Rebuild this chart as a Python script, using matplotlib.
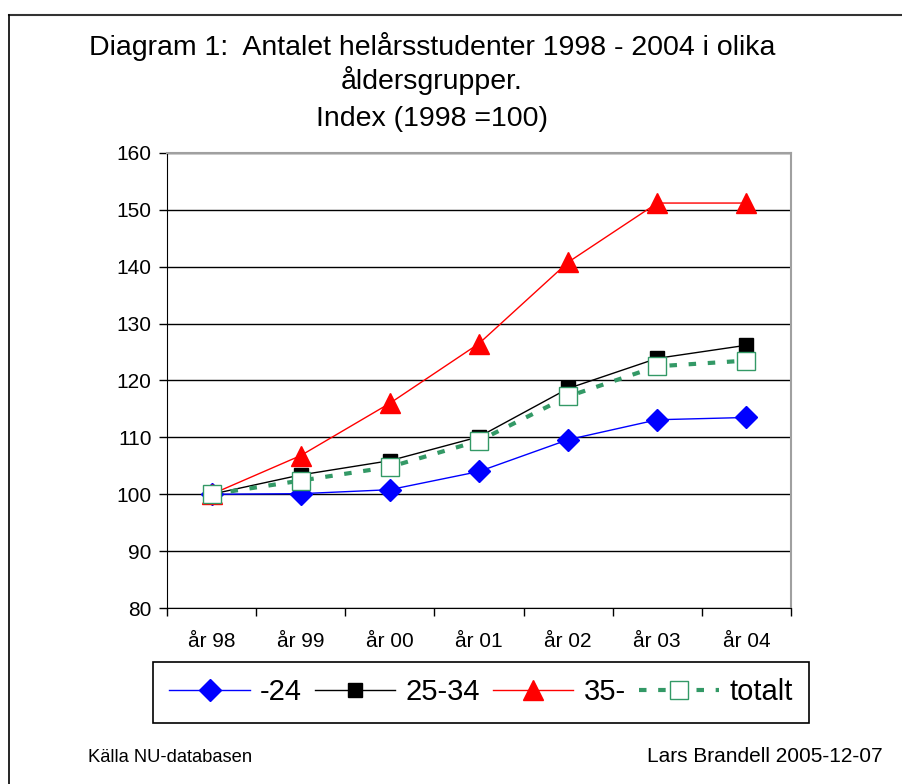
import matplotlib.pyplot as plt
from matplotlib.lines import Line2D

plt.rcParams['font.family'] = ['Liberation Sans', 'DejaVu Sans']

years = ['år 98', 'år 99', 'år 00', 'år 01', 'år 02', 'år 03', 'år 04']
under_24 = [100, 100.1, 100.8, 104.0, 109.6, 113.1, 113.5]
age_25_34 = [100, 103.4, 105.9, 110.1, 118.6, 123.9, 126.2]
over_35 = [100, 106.8, 116.0, 126.5, 140.8, 151.2, 151.2]
totalt = [100, 102.4, 104.8, 109.4, 117.2, 122.5, 123.5]

green = '#339966'

fig = plt.figure(figsize=(9.03, 7.84), dpi=100)
ax = fig.add_axes([167 / 903, 1 - 608 / 784, 624 / 903, 455 / 784])

x = range(len(years))
ax.plot(x, under_24, color='#0000ff', lw=1, marker='D', ms=11.5, mfc='#0000ff', mec='#0000ff', label='-24', zorder=3)
ax.plot(x, age_25_34, color='black', lw=1, marker='s', ms=10, mfc='black', mec='black', label='25-34', zorder=4)
ax.plot(x, over_35, color='#ff0000', lw=1, marker='^', ms=15, mfc='#ff0000', mec='#ff0000', label='35-', zorder=5)
ax.plot(x, totalt, color=green, lw=3, ls=(0, (1.8, 2.8)), marker='s', ms=12.5, mfc='white', mec=green, mew=1,
        label='totalt', zorder=6)

ax.set_xlim(-0.5, 6.5)
ax.set_ylim(80, 160)
ax.set_yticks(range(80, 161, 10))
ax.set_xticks(list(x))
ax.set_xticklabels(years)
ax.set_xticks([i - 0.5 for i in range(8)], minor=True)
ax.tick_params(axis='x', which='major', length=0, pad=17, labelsize=15)
ax.tick_params(axis='x', which='minor', length=6, direction='out', width=1)
ax.tick_params(axis='y', length=6, direction='out', width=1, pad=5, labelsize=15)
ax.grid(axis='y', color='black', lw=1)
ax.set_axisbelow(True)
for s in ['left', 'bottom']:
    ax.spines[s].set_color('black')
for s in ['top', 'right']:
    ax.spines[s].set_color('#a0a0a0')
    ax.spines[s].set_linewidth(1.5)

handles, labels = ax.get_legend_handles_labels()
leg = fig.legend(handles, labels, loc='center', bbox_to_anchor=(481 / 903, 1 - 692.5 / 784), ncol=4,
                 fontsize=21, handlelength=2.75, handletextpad=0.35, columnspacing=0.45, borderpad=0.55,
                 fancybox=False, edgecolor='black', framealpha=1)
leg.get_frame().set_linewidth(1.2)

fig.text(432 / 903, 1 - 55 / 784, 'Diagram 1:  Antalet helårsstudenter 1998 - 2004 i olika', ha='center', va='baseline', fontsize=20.5)
fig.text(432 / 903, 1 - 89 / 784, 'åldersgrupper.', ha='center', va='baseline', fontsize=20.5)
fig.text(432 / 903, 1 - 126 / 784, 'Index (1998 =100)', ha='center', va='baseline', fontsize=20.5)

fig.text(88 / 903, 1 - 757 / 784, 'Källa NU-databasen', ha='left', va='center', fontsize=13.2)
fig.text(883 / 903, 1 - 757 / 784, 'Lars Brandell 2005-12-07', ha='right', va='center', fontsize=15)

# outer chart border
fig.add_artist(Line2D([9 / 903, 1.0], [1 - 14.5 / 784, 1 - 14.5 / 784], transform=fig.transFigure, color='#333333', lw=1.5))
fig.add_artist(Line2D([9 / 903, 9 / 903], [1 - 14.5 / 784, 0], transform=fig.transFigure, color='black', lw=1.2))

fig.savefig('out.png', dpi=100)
